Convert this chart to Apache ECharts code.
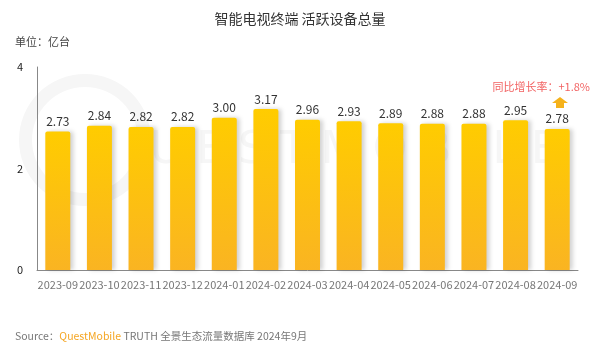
<!DOCTYPE html>
<html>
<head>
<meta charset="utf-8">
<script src="https://cdn.jsdelivr.net/npm/echarts@6/dist/echarts.min.js"></script>
<style>
  html, body { margin: 0; padding: 0; background: #fff; }
  #chart { width: 600px; height: 351px; }
</style>
</head>
<body>
<div id="chart"></div>
<script>
const months = ["2023-09", "2023-10", "2023-11", "2023-12", "2024-01", "2024-02", "2024-03",
  "2024-04", "2024-05", "2024-06", "2024-07", "2024-08", "2024-09"];
const devices = [2.73, 2.84, 2.82, 2.82, 3.00, 3.17, 2.96, 2.93, 2.89, 2.88, 2.88, 2.95, 2.78];
const yTicks = [0, 2, 4];
const growthText = "同比增长率：+1.8%";

const font = "'Noto Sans CJK SC', 'Noto Sans', sans-serif";
const myChart = echarts.init(document.getElementById("chart"));

myChart.setOption({
  animation: false,
  textStyle: { fontFamily: font },
  title: {
    text: "智能电视终端 活跃设备总量",
    left: "center",
    top: 7,
    textStyle: { fontSize: 14, fontWeight: "normal", color: "#333" },
  },
  grid: { left: 37, right: 22, top: 67, bottom: 81 },
  xAxis: {
    type: "category",
    data: months,
    axisLine: { lineStyle: { color: "#888" } },
    axisTick: { show: false },
    axisLabel: { color: "#777", fontSize: 11, margin: 9, interval: 0 },
  },
  yAxis: {
    type: "value",
    min: yTicks[0],
    max: yTicks[yTicks.length - 1],
    interval: 2,
    splitLine: { show: false },
    axisLine: { show: true, lineStyle: { color: "#888" } },
    axisTick: { show: false },
    axisLabel: { color: "#222", fontSize: 11, margin: 14 },
  },
  series: [
    {
      type: "bar",
      data: devices,
      barWidth: 25,
      z: 5,
      itemStyle: {
        borderRadius: [2, 2, 0, 0],
        color: new echarts.graphic.LinearGradient(0, 0, 0, 1, [
          { offset: 0, color: "#FFCC00" },
          { offset: 1, color: "#FAB422" },
        ]),
        shadowColor: "rgba(0,0,0,0.18)",
        shadowBlur: 4,
        shadowOffsetX: 3,
      },
      label: {
        show: true,
        position: "top",
        distance: 4,
        color: "#333",
        fontSize: 12,
        formatter: (p) => p.value.toFixed(2),
      },
    },
  ],
  graphic: [
    // 水印
    {
      type: "ring",
      z: -10,
      shape: { cx: 85, cy: 140, r: 66, r0: 53 },
      style: { fill: "#f6f6f6" },
    },
    {
      type: "text",
      z: -10,
      left: 150,
      top: 130,
      style: {
        text: "U E S T M O B I L E",
        fill: "#f6f6f6",
        fontSize: 44,
        fontFamily: "'DejaVu Sans', sans-serif",
      },
    },
    {
      type: "text",
      left: 15,
      top: 36,
      style: { text: "单位：亿台", fill: "#444", fontSize: 11, fontFamily: font },
    },
    {
      type: "text",
      right: 10,
      top: 81,
      style: { text: growthText, fill: "#F26363", fontSize: 11, fontFamily: font },
    },
    {
      type: "polygon",
      shape: { points: [[560, 97], [552, 103], [556, 103], [556, 108], [564, 108], [564, 103], [568, 103]] },
      style: { fill: "#F5B21B" },
    },
    {
      type: "text",
      left: 15,
      top: 331,
      style: {
        text: "{g|Source：}{o|QuestMobile}{g| TRUTH 全景生态流量数据库 2024年9月}",
        fontFamily: font,
        rich: {
          g: { fill: "#777", fontSize: 10.5, fontFamily: font },
          o: { fill: "#F5A623", fontSize: 10.5, fontFamily: font },
        },
      },
    },
  ],
});
</script>
</body>
</html>
